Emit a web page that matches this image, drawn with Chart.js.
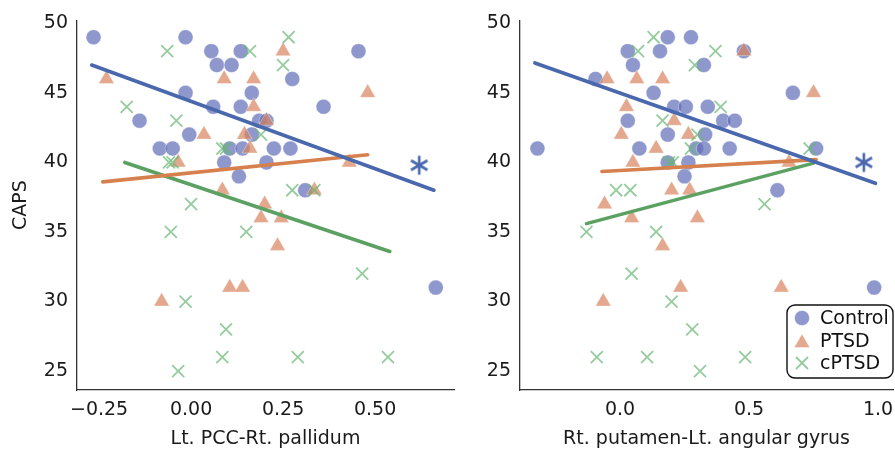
<!DOCTYPE html>
<html>
<head>
<meta charset="utf-8">
<script src="https://cdn.jsdelivr.net/npm/chart.js@4.4.0/dist/chart.umd.min.js"></script>
<style>
  html, body { margin: 0; padding: 0; background: #fff; overflow: hidden; }
  #wrap { position: relative; width: 895px; height: 450px; overflow: hidden; }
  canvas { position: absolute; top: 0; }
</style>
</head>
<body>
<div id="wrap">
  <canvas id="leftChart" width="470" height="450" style="left:0"></canvas>
  <canvas id="rightChart" width="445" height="450" style="left:470px"></canvas>
</div>
<script>
// tick labels
const yTicks = [25, 30, 35, 40, 45, 50];
const leftXTicks = [-0.25, 0, 0.25, 0.5];
const leftXLabels = ['\u22120.25', '0.00', '0.25', '0.50'];
const rightXTicks = [0, 0.5, 1.0];
const rightXLabels = ['0.0', '0.5', '1.0'];
const groups = ['Control', 'PTSD', 'cPTSD'];

// Lt. PCC-Rt. pallidum vs CAPS
const leftControl = [
  [-0.265, 49], [-0.015, 49], [0.055, 48], [0.135, 48], [0.07, 47], [0.11, 47],
  [-0.015, 45], [0.165, 45], [0.275, 46], [0.455, 48], [-0.14, 43], [0.06, 44],
  [0.135, 44], [0.36, 44], [0.185, 43], [0.205, 43], [-0.005, 42], [0.165, 42],
  [-0.085, 41], [-0.05, 41], [0.105, 41], [0.14, 41], [0.225, 41], [0.27, 41],
  [0.09, 40], [0.205, 40], [0.13, 39], [0.31, 38], [0.665, 31]
];
const leftPTSD = [
  [-0.23, 46], [0.09, 46], [0.17, 46], [0.25, 48], [0.48, 45], [0.17, 44],
  [0.035, 42], [0.145, 42], [0.205, 43], [0.16, 41], [-0.035, 40], [0.43, 40],
  [0.085, 38], [0.335, 38], [0.2, 37], [0.19, 36], [0.245, 36], [0.235, 34],
  [-0.08, 30], [0.105, 31], [0.14, 31]
];
const leftCPTSD = [
  [-0.065, 48], [0.16, 48], [0.265, 49], [0.25, 47], [-0.175, 44], [-0.04, 43],
  [0.19, 42], [0.085, 41], [0.095, 41], [-0.06, 40], [-0.05, 40], [0.0, 37],
  [-0.055, 35], [0.15, 35], [-0.015, 30], [0.095, 28], [0.085, 26], [-0.035, 25],
  [0.275, 38], [0.335, 38], [0.465, 32], [0.29, 26], [0.535, 26]
];
const leftFitControl = [[-0.27, 47.0], [0.66, 38.0]];
const leftFitPTSD = [[-0.24, 38.6], [0.48, 40.55]];
const leftFitCPTSD = [[-0.18, 40.0], [0.54, 33.6]];
const leftStar = [0.62, 39.8];

// Rt. putamen-Lt. angular gyrus vs CAPS
const rightControl = [
  [-0.32, 41], [-0.095, 46], [0.03, 48], [0.05, 47], [0.155, 48], [0.185, 49],
  [0.275, 49], [0.13, 45], [0.21, 44], [0.255, 44], [0.03, 43], [0.185, 42],
  [0.075, 41], [0.185, 40], [0.265, 40], [0.25, 39], [0.295, 41], [0.325, 47],
  [0.48, 48], [0.67, 45], [0.34, 44], [0.4, 43], [0.445, 43], [0.33, 42],
  [0.325, 41], [0.425, 41], [0.76, 41], [0.61, 38], [0.985, 31]
];
const rightPTSD = [
  [-0.05, 46], [0.065, 46], [0.165, 46], [0.025, 44], [0.005, 42], [0.14, 41],
  [0.21, 43], [0.265, 42], [0.05, 40], [0.2, 38], [0.27, 38], [0.48, 48],
  [0.75, 45], [0.655, 40], [-0.06, 37], [0.045, 36], [0.165, 34], [0.3, 36],
  [-0.065, 30], [0.235, 31], [0.625, 31]
];
const rightCPTSD = [
  [0.13, 49], [0.07, 48], [0.29, 47], [0.37, 48], [0.165, 43], [0.39, 44],
  [0.275, 41], [0.3, 42], [0.19, 40], [0.205, 40], [-0.015, 38], [0.04, 38],
  [0.735, 41], [0.56, 37], [-0.13, 35], [0.14, 35], [0.045, 32], [0.2, 30],
  [0.28, 28], [-0.09, 26], [0.105, 26], [0.31, 25], [0.485, 26]
];
const rightFitControl = [[-0.33, 47.15], [0.99, 38.5]];
const rightFitPTSD = [[-0.07, 39.35], [0.76, 40.2]];
const rightFitCPTSD = [[-0.13, 35.6], [0.75, 39.95]];
const rightStar = [0.945, 40];

const FONT = 'DejaVu Sans';
const pointFill = ['rgba(95,108,182,0.7)', 'rgba(215,131,92,0.7)', 'rgba(102,182,116,0.7)'];
const lineColor = ['#4a68ad', '#d6804e', '#5aa162'];
const styles = ['circle', 'triangle', 'crossRot'];
const radii = [7.5, 9, 8.5];

function makeStar(color) {
  const size = 22;
  const c = document.createElement('canvas');
  c.width = size; c.height = size;
  const g = c.getContext('2d');
  g.strokeStyle = color;
  g.lineWidth = 2.6;
  const r = 9.5, m = size / 2;
  for (let k = 0; k < 3; k++) {
    const a = Math.PI / 2 + k * Math.PI / 3;
    g.beginPath();
    g.moveTo(m + r * Math.cos(a), m - r * Math.sin(a));
    g.lineTo(m - r * Math.cos(a), m + r * Math.sin(a));
    g.stroke();
  }
  return c;
}
const starImg = makeStar(lineColor[0]);

const toXY = pts => pts.map(p => ({ x: p[0], y: p[1] }));

function scatterSet(i, pts) {
  const cross = styles[i] === 'crossRot';
  return {
    label: groups[i],
    data: toXY(pts),
    pointStyle: styles[i],
    pointRadius: radii[i],
    pointHoverRadius: radii[i],
    backgroundColor: pointFill[i],
    borderColor: cross ? pointFill[i] : 'rgba(255,255,255,0.45)',
    borderWidth: cross ? 1.8 : 0.8,
    order: 6 - i
  };
}

function fitSet(i, pts) {
  return {
    label: groups[i] + ' fit',
    data: toXY(pts),
    showLine: true,
    borderColor: lineColor[i],
    borderWidth: 3.6,
    borderCapStyle: 'round',
    pointRadius: 0,
    pointHoverRadius: 0,
    fill: false,
    order: 2
  };
}

function starSet(p) {
  return {
    label: 'sig',
    data: [{ x: p[0], y: p[1] }],
    pointStyle: starImg,
    pointRadius: 10,
    order: 1
  };
}

// legend drawn inside the right panel
const legendBox = {
  id: 'legendBox',
  afterDraw(chart) {
    const ctx = chart.ctx;
    const x0 = 317, y0 = 305, w = 106, h = 73;
    ctx.save();
    ctx.beginPath();
    ctx.roundRect(x0, y0, w, h, 8);
    ctx.fillStyle = 'rgba(255,255,255,0.85)';
    ctx.fill();
    ctx.lineWidth = 1.4;
    ctx.strokeStyle = '#111';
    ctx.stroke();
    const rows = [318, 341, 363];
    ctx.font = '19px "' + FONT + '"';
    ctx.textBaseline = 'middle';
    rows.forEach((y, i) => {
      ctx.fillStyle = pointFill[i];
      ctx.strokeStyle = styles[i] === 'crossRot' ? pointFill[i] : 'rgba(255,255,255,0.45)';
      ctx.lineWidth = styles[i] === 'crossRot' ? 1.8 : 0.8;
      Chart.helpers.drawPoint(ctx, {
        pointStyle: styles[i], radius: radii[i], rotation: 0,
        borderWidth: ctx.lineWidth
      }, 332, y + (styles[i] === 'triangle' ? 2 : 0));
      ctx.fillStyle = '#111';
      ctx.fillText(groups[i], 350, y + 1);
    });
    ctx.restore();
  }
};

function makeChart(id, cfg) {
  const tickFont = { family: FONT, size: 19 };
  return new Chart(document.getElementById(id), {
    type: 'scatter',
    data: {
      datasets: [
        scatterSet(0, cfg.control), scatterSet(1, cfg.ptsd), scatterSet(2, cfg.cptsd),
        fitSet(0, cfg.fits[0]), fitSet(1, cfg.fits[1]), fitSet(2, cfg.fits[2]),
        starSet(cfg.star)
      ]
    },
    options: {
      responsive: false,
      animation: false,
      layout: { padding: { left: 0, top: 18, right: cfg.padRight, bottom: 0 } },
      plugins: { legend: { display: false }, tooltip: { enabled: false } },
      scales: {
        x: {
          type: 'linear',
          min: cfg.xMin, max: cfg.xMax,
          grid: { display: false, drawTicks: false },
          border: { display: true, color: '#333', width: 1.3 },
          afterBuildTicks: axis => { axis.ticks = cfg.xTicks.map(v => ({ value: v })); },
          afterFit: axis => { axis.height = 60; },
          ticks: {
            autoSkip: false, maxRotation: 0, padding: 9,
            color: '#1a1a1a', font: tickFont,
            callback: (v, i) => cfg.xLabels[i]
          },
          title: {
            display: true, text: cfg.xTitle, color: '#1a1a1a',
            font: tickFont, padding: { top: 8, bottom: 0 }
          }
        },
        y: {
          type: 'linear',
          min: 23.64, max: 50.21,
          grid: { display: false, drawTicks: false },
          border: { display: true, color: '#333', width: 1.3 },
          afterBuildTicks: axis => { axis.ticks = yTicks.map(v => ({ value: v })); },
          afterFit: axis => { axis.width = cfg.yWidth; },
          ticks: {
            autoSkip: false, padding: 9, color: '#1a1a1a', font: tickFont,
            callback: v => String(v)
          },
          title: {
            display: cfg.yTitle !== '', text: cfg.yTitle, color: '#1a1a1a',
            font: tickFont, padding: { top: 10, bottom: 0 }
          }
        }
      }
    },
    plugins: cfg.plugins || []
  });
}

makeChart('leftChart', {
  control: leftControl, ptsd: leftPTSD, cptsd: leftCPTSD,
  fits: [leftFitControl, leftFitPTSD, leftFitCPTSD], star: leftStar,
  xMin: -0.31, xMax: 0.7145, xTicks: leftXTicks, xLabels: leftXLabels,
  xTitle: 'Lt. PCC-Rt. pallidum', yTitle: 'CAPS', yWidth: 77, padRight: 16
});

makeChart('rightChart', {
  control: rightControl, ptsd: rightPTSD, cptsd: rightCPTSD,
  fits: [rightFitControl, rightFitPTSD, rightFitCPTSD], star: rightStar,
  xMin: -0.3876, xMax: 1.058, xTicks: rightXTicks, xLabels: rightXLabels,
  xTitle: 'Rt. putamen-Lt. angular gyrus', yTitle: '', yWidth: 50, padRight: 22,
  plugins: [legendBox]
});
</script>
</body>
</html>
